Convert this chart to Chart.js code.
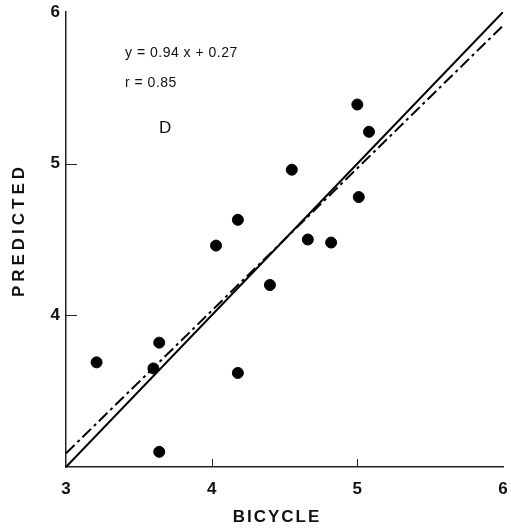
<!DOCTYPE html>
<html>
<head>
<meta charset="utf-8">
<script src="https://cdn.jsdelivr.net/npm/chart.js@4.4.1/dist/chart.umd.min.js"></script>
<style>
    body { margin: 0; background: white; }
    canvas { display: block; }
</style>
</head>
<body>
<canvas id="chart" width="511" height="529"></canvas>
<script>
    // observed vs predicted (panel D)
    const bicycle   = [3.21, 3.60, 3.64, 3.64, 4.03, 4.18, 4.18, 4.40, 4.55, 4.66, 4.82, 5.00, 5.01, 5.08]
    const predicted = [3.69, 3.65, 3.82, 3.10, 4.46, 4.63, 3.62, 4.20, 4.96, 4.50, 4.48, 5.39, 4.78, 5.21]

    const xTicks = [3, 4, 5, 6]
    const yTicks = [4, 5, 6]
    const fitSlope = 0.94
    const fitIntercept = 0.27
    const equationText = `y = 0.94 x + 0.27`
    const rText = `r = 0.85`
    const panelText = `D`
    const xTitle = `BICYCLE`
    const yTitle = `PREDICTED`

    const xMin = xTicks[0], xMax = xTicks[xTicks.length - 1]
    const identityLine = [{ x: xMin, y: xMin }, { x: xMax, y: xMax }]
    const fitLine = [xMin, xMax].map(x => ({ x: x, y: fitSlope * x + fitIntercept }))

    const FONT = `"Liberation Sans", Arial, sans-serif`

    const extras = {
        id: 'extras',
        afterDraw(chart) {
            const ctx = chart.ctx
            const a = chart.chartArea
            const xs = chart.scales.x, ys = chart.scales.y
            ctx.save()
            // inward tick marks
            ctx.strokeStyle = '#222'
            ctx.lineWidth = 1
            xTicks.slice(1, -1).forEach(v => {
                const px = Math.round(xs.getPixelForValue(v)) + 0.5
                ctx.beginPath(); ctx.moveTo(px, a.bottom); ctx.lineTo(px, a.bottom - 8); ctx.stroke()
            })
            yTicks.slice(0, -1).forEach(v => {
                const py = Math.round(ys.getPixelForValue(v)) + 0.5
                ctx.beginPath(); ctx.moveTo(a.left, py); ctx.lineTo(a.left + 11, py); ctx.stroke()
            })
            // annotations
            ctx.fillStyle = '#111'
            ctx.textBaseline = 'middle'
            ctx.textAlign = 'left'
            ctx.font = `14px ${FONT}`
            ctx.letterSpacing = '0.5px'
            ctx.fillText(equationText, a.left + 59, a.top + 41)
            ctx.fillText(rText, a.left + 59, a.top + 71)
            ctx.font = `17px ${FONT}`
            ctx.letterSpacing = '0px'
            ctx.fillText(panelText, a.left + 93, a.top + 116)
            // axis titles
            ctx.font = `bold 17px ${FONT}`
            ctx.textAlign = 'center'
            ctx.letterSpacing = '2px'
            ctx.fillText(xTitle, 277, 517)
            ctx.translate(19, 230)
            ctx.rotate(-Math.PI / 2)
            ctx.letterSpacing = '4px'
            ctx.fillText(yTitle, 0, 0)
            ctx.restore()
        }
    }

    new Chart(document.getElementById('chart'), {
        type: 'scatter',
        data: {
            datasets: [
                {
                    label: 'points',
                    data: bicycle.map((x, i) => ({ x: x, y: predicted[i] })),
                    backgroundColor: '#000',
                    borderColor: '#000',
                    pointRadius: 5.5,
                    pointHoverRadius: 5.5
                },
                {
                    type: 'line',
                    label: 'identity',
                    data: identityLine,
                    borderColor: '#000',
                    borderWidth: 2,
                    pointRadius: 0,
                    fill: false
                },
                {
                    type: 'line',
                    label: 'fit',
                    data: fitLine,
                    borderColor: '#000',
                    borderWidth: 2,
                    borderDash: [12, 4, 3, 4],
                    pointRadius: 0,
                    fill: false
                }
            ]
        },
        options: {
            responsive: false,
            animation: false,
            layout: { padding: { top: 12, right: 8, left: 0, bottom: 0 } },
            plugins: { legend: { display: false }, tooltip: { enabled: false } },
            scales: {
                x: {
                    type: 'linear',
                    min: xMin,
                    max: xMax,
                    afterBuildTicks: (s) => { s.ticks = xTicks.map(v => ({ value: v })) },
                    afterFit: (s) => { s.height = 62; s.paddingLeft = 0; s.paddingRight = 0 },
                    grid: { display: false, drawTicks: false },
                    border: { display: true, color: '#222', width: 1.5 },
                    ticks: { color: '#111', padding: 12, font: { family: FONT, size: 17, weight: 'bold' } }
                },
                y: {
                    type: 'linear',
                    min: 3,
                    max: 6,
                    afterBuildTicks: (s) => { s.ticks = yTicks.map(v => ({ value: v })) },
                    afterFit: (s) => { s.width = 66; s.paddingTop = 0; s.paddingBottom = 0 },
                    grid: { display: false, drawTicks: false },
                    border: { display: true, color: '#222', width: 1.5 },
                    ticks: { color: '#111', padding: 6, font: { family: FONT, size: 17, weight: 'bold' } }
                }
            }
        },
        plugins: [extras]
    })
</script>
</body>
</html>
